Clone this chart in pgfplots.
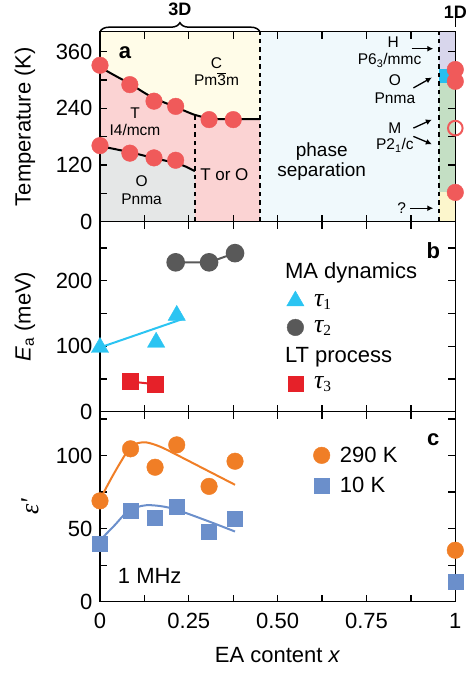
\documentclass[border=0pt]{standalone}
\usepackage{fontspec}
\setmainfont{Liberation Sans}
\newfontfamily\greek{Liberation Serif}
\usepackage{pgfplots}
\pgfplotsset{compat=1.18}
\usetikzlibrary{decorations.pathreplacing, arrows.meta}
\definecolor{cyel}{HTML}{FFFCE8}
\definecolor{cpink}{HTML}{FBD3D3}
\definecolor{cgrey}{HTML}{E5E7E7}
\definecolor{cblue}{HTML}{F0F9FC}
\definecolor{cpurp}{HTML}{D8D6EC}
\definecolor{ccyanband}{HTML}{26BFEF}
\definecolor{cgreen}{HTML}{C4DFC4}
\definecolor{cyel2}{HTML}{FCF6CC}
\definecolor{cred}{HTML}{F05A5A}
\definecolor{ccyan}{HTML}{2BC4F2}
\definecolor{cgray}{HTML}{595959}
\definecolor{csq}{HTML}{E62129}
\definecolor{corange}{HTML}{F07E26}
\definecolor{cbsq}{HTML}{6B8FCB}
\newcommand{\fsA}{\fontsize{15.5}{17}\selectfont}
\newcommand{\fsL}{\fontsize{22}{24}\selectfont}
\newcommand{\tauX}[1]{{\greek\itshape\fontsize{26}{26}\selectfont τ}\textsubscript{\greek #1}}
\pgfplotsset{panel/.style={scale only axis, width=355.3pt, height=190pt,
  xmin=0, xmax=1, axis line style={line width=1.3pt},
  tick align=inside, major tick length=7pt, minor tick length=7pt,
  every tick/.style={line width=1.3pt, black},
  xtick={0,0.25,0.5,0.75,1}, minor xtick={0.125,0.375,0.625,0.875},
  tick label style={font=\fsL}, label style={font=\fsL},
  yticklabel style={xshift=-4pt}, xticklabel style={yshift=-8pt},
  /pgf/number format/assume math mode=true, clip=false,
  ylabel style={at={(axis description cs:-0.211,0.5)}, anchor=center}}}
\begin{document}
\begin{tikzpicture}
% ---------------- panel a
\begin{axis}[panel, at={(0,380pt)}, set layers, ymin=0, ymax=402,
  ytick={0,60,...,360}, yticklabels={0,,120,,240,,360}, xticklabels={},
  ylabel={Temperature (K)}]
\addplot[fill=cyel, draw=none, on layer=axis background] coordinates {(0,402)(0.45,402)(0.45,217)(0.34,217)(0.3,220)(0.267,226)(0.24,234)(0.213,243)(0.185,251)(0.15,262)(0.12,275)(0.084,292)(0.04,310)(0,327)} -- cycle;
\addplot[fill=cpink, draw=none, on layer=axis background] coordinates {(0,327)(0.04,310)(0.084,292)(0.12,275)(0.15,262)(0.185,251)(0.213,243)(0.24,234)(0.267,226)(0.3,220)(0.34,217)(0.45,217)(0.45,0)(0.267,0)(0.267,107)(0.24,117)(0.213,124)(0.15,135)(0.084,147)(0,160)} -- cycle;
\addplot[fill=cgrey, draw=none, on layer=axis background] coordinates {(0,0)(0.267,0)(0.267,107)(0.24,117)(0.213,124)(0.15,135)(0.084,147)(0,160)} -- cycle;
\addplot[fill=cblue, draw=none, on layer=axis background] coordinates {(0.45,0)(0.955,0)(0.955,402)(0.45,402)} -- cycle;
\addplot[fill=cyel2, draw=none, on layer=axis background] coordinates {(0.955,0)(1,0)(1,62)(0.955,62)} -- cycle;
\addplot[fill=cgreen, draw=none, on layer=axis background] coordinates {(0.955,62)(1,62)(1,294)(0.955,294)} -- cycle;
\addplot[fill=ccyanband, draw=none, on layer=axis background] coordinates {(0.955,294)(1,294)(1,324)(0.955,324)} -- cycle;
\addplot[fill=cpurp, draw=none, on layer=axis background] coordinates {(0.955,324)(1,324)(1,402)(0.955,402)} -- cycle;
% markers
\addplot[only marks, mark=*, mark size=8.3pt, color=cred] coordinates {(0,331)(0.084,290)(0.152,255)(0.213,244)(0.307,216)(0.375,216)};
\addplot[only marks, mark=*, mark size=8.3pt, color=cred] coordinates {(0,161)(0.084,145)(0.152,135)(0.213,130)};
\addplot[only marks, mark=*, mark size=8.3pt, color=cred] coordinates {(1,322)(1,297)(1,62)};
\addplot[only marks, mark=o, mark size=7.3pt, color=cred, mark options={line width=2pt}] coordinates {(1,198)};
% curves
\addplot[black, line width=2pt, smooth] coordinates {(0,327)(0.04,310)(0.084,292)(0.12,275)(0.15,262)(0.185,251)(0.213,243)(0.24,234)(0.267,226)(0.3,220)(0.34,217)(0.45,217)};
\addplot[black, line width=2pt, smooth] coordinates {(0,160)(0.084,147)(0.15,135)(0.213,124)(0.24,117)(0.267,107)};
% dashed boundaries
\addplot[black, line width=2.2pt, dash pattern=on 4.5pt off 4pt] coordinates {(0.267,0)(0.267,226)};
\addplot[black, line width=2.2pt, dash pattern=on 4.5pt off 4pt] coordinates {(0.45,0)(0.45,402)};
\addplot[black, line width=2.2pt, dash pattern=on 4.5pt off 4pt] coordinates {(0.955,0)(0.955,402)};
% texts
\node[font=\bfseries\fontsize{22}{24}\selectfont] at (axis cs:0.07,358) {a};
\node[font=\fsA] at (axis cs:0.328,336) {C};
\node[font=\fsA] at (axis cs:0.328,301) {Pm$\overline{\mbox{3}}$m};
\node[font=\fsA] at (axis cs:0.0985,230) {T};
\node[font=\fsA] at (axis cs:0.0985,195) {I4/mcm};
\node[font=\fsA] at (axis cs:0.117,85) {O};
\node[font=\fsA] at (axis cs:0.117,48) {Pnma};
\node[font=\fontsize{17}{19}\selectfont] at (axis cs:0.35,99) {T or O};
\node[font=\fontsize{19}{21}\selectfont] at (axis cs:0.624,149) {phase};
\node[font=\fontsize{19}{21}\selectfont] at (axis cs:0.624,106) {separation};
\node[font=\fsA] at (axis cs:0.8256,379) {H};
\node[font=\fsA] at (axis cs:0.815,341) {P6\textsubscript{3}/mmc};
\node[font=\fsA] at (axis cs:0.83,299) {O};
\node[font=\fsA] at (axis cs:0.83,260.6) {Pnma};
\node[font=\fsA] at (axis cs:0.83,198) {M};
\node[font=\fsA] at (axis cs:0.83,161) {P2\textsubscript{1}/c};
\node[font=\fsA] at (axis cs:0.849,28.5) {?};
\draw[-{Latex[length=6pt,width=6pt]}, line width=1.3pt] (axis cs:0.877,366) -- (axis cs:0.938,366);
\draw[-{Latex[length=6pt,width=6pt]}, line width=1.3pt] (axis cs:0.882,283) -- (axis cs:0.934,305);
\draw[-{Latex[length=6pt,width=6pt]}, line width=1.3pt] (axis cs:0.882,198) -- (axis cs:0.934,216);
\draw[-{Latex[length=6pt,width=6pt]}, line width=1.3pt] (axis cs:0.882,180.5) -- (axis cs:0.934,164);
\draw[-{Latex[length=6pt,width=6pt]}, line width=1.3pt] (axis cs:0.872,28.5) -- (axis cs:0.938,28.5);
% brace and top labels
\draw[decorate, decoration={brace, amplitude=9pt}, line width=1.5pt] (axis cs:0,402) -- (axis cs:0.45,402);
\node[font=\bfseries\fontsize{18}{20}\selectfont] at ([yshift=22pt]axis cs:0.225,402) {3D};
\node[font=\bfseries\fontsize{18}{20}\selectfont] at ([yshift=19pt]axis cs:1,402) {1D};
\draw[line width=1.3pt] ([yshift=5pt]axis cs:1,402) -- ([yshift=13.7pt]axis cs:1,402);
\end{axis}
% ---------------- panel b
\begin{axis}[panel, at={(0,190pt)}, ymin=0, ymax=290,
  ytick={0,100,200}, minor ytick={50,150,250}, xticklabels={},
  ylabel={\textit{E}\textsubscript{a} (meV)},
  legend style={at={(axis cs:0.525,231)}, anchor=north west, draw=none, fill=none,
    font=\fsL, row sep=9pt, inner sep=0pt,
    /tikz/every odd column/.style={column sep=8pt}}, legend cell align=left]
\addplot[ccyan, line width=2pt, forget plot] coordinates {(0,98)(0.23,141)};
\addplot[only marks, mark=triangle*, mark size=10pt, color=ccyan, forget plot] coordinates {(0,98)(0.158,106)(0.216,147)};
\addplot[cgray, line width=2pt, mark=*, mark size=8.3pt, forget plot] coordinates {(0.213,228)(0.307,228)(0.38,242)};
\addplot[csq, line width=2pt, mark=square*, mark size=7.5pt, forget plot] coordinates {(0.086,46)(0.155,42)};
\addlegendimage{empty legend}\addlegendentry{\hspace*{-29pt}MA dynamics}
\addlegendimage{only marks, mark=triangle*, mark size=10pt, color=ccyan}\addlegendentry{\tauX{1}}
\addlegendimage{only marks, mark=*, mark size=8.3pt, color=cgray}\addlegendentry{\tauX{2}}
\addlegendimage{empty legend}\addlegendentry{\hspace*{-29pt}LT process}
\addlegendimage{only marks, mark=square*, mark size=7.5pt, color=csq}\addlegendentry{\tauX{3}}
\node[font=\bfseries\fontsize{22}{24}\selectfont] at (axis cs:0.938,246) {b};
\end{axis}
% ---------------- panel c
\begin{axis}[panel, at={(0,0)}, ymin=0, ymax=130,
  ytick={0,50,100}, minor ytick={25,75,125},
  xticklabels={0,0.25,0.50,0.75,1},
  xlabel={EA content \textit{x}}, ylabel={{\greek\itshape\fontsize{26}{26}\selectfont ε'}},
  ylabel style={at={(axis description cs:-0.197,0.5)}},
  xlabel style={yshift=-12pt},
  legend style={at={(axis cs:0.6,107.4)}, anchor=north west, draw=none, fill=none,
    font=\fsL, row sep=9pt, inner sep=0pt,
    /tikz/every odd column/.style={column sep=8pt}}, legend cell align=left]
\addplot[corange, line width=2pt, smooth, forget plot] coordinates {(0,70)(0.04,88)(0.08,104)(0.1,108)(0.13,109)(0.17,106)(0.22,100)(0.3,90)(0.38,80)};
\addplot[cbsq, line width=2pt, smooth, forget plot] coordinates {(0,42)(0.04,52)(0.08,62)(0.13,66)(0.2,64)(0.3,55.5)(0.38,48)};
\addplot[only marks, mark=*, mark size=8.3pt, color=corange, forget plot] coordinates {(0,69)(0.086,104.6)(0.155,92)(0.216,107.3)(0.307,78.9)(0.38,96.1)(1,35.2)};
\addplot[only marks, mark=square*, mark size=7.5pt, color=cbsq, forget plot] coordinates {(0,39.8)(0.086,62.5)(0.155,57.3)(0.216,64.8)(0.307,47.7)(0.38,56.8)(1,13.6)};
\addlegendimage{only marks, mark=*, mark size=8.3pt, color=corange}\addlegendentry{290 K}
\addlegendimage{only marks, mark=square*, mark size=7.5pt, color=cbsq}\addlegendentry{10 K}
\node[font=\bfseries\fontsize{22}{24}\selectfont] at (axis cs:0.938,111) {c};
\node[font=\fsL] at (axis cs:0.14,17.7) {1 MHz};
\end{axis}
\pgfresetboundingbox
\path[use as bounding box] (-100pt,-71.3pt) rectangle (369pt,601.7pt);
\end{tikzpicture}
\end{document}
